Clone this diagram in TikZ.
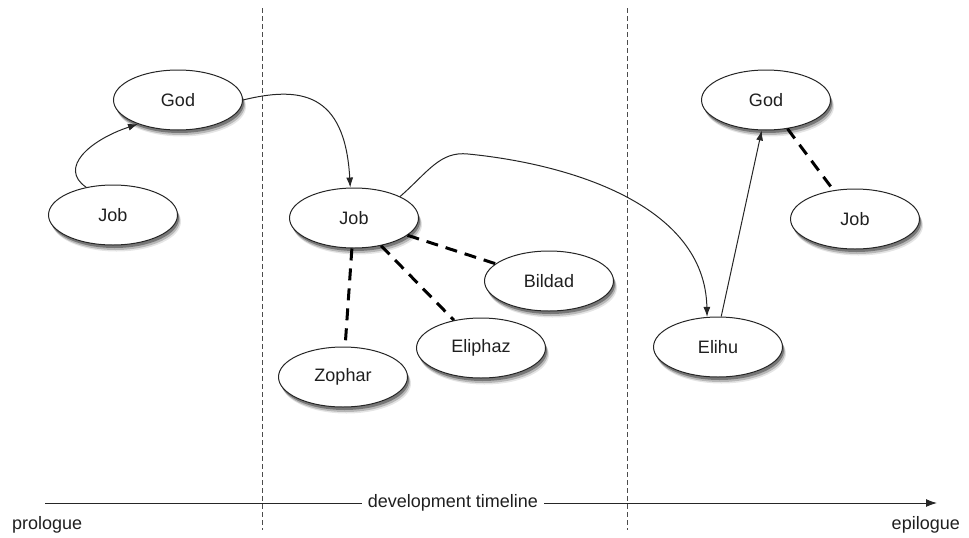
\documentclass[tikz,border=0pt]{standalone}
\usepackage{fontspec}
\setmainfont{Liberation Sans}
\usetikzlibrary{shapes.geometric,shadows,arrows.meta}
\begin{document}
\begin{tikzpicture}[x=1pt,y=-1pt,
  txt/.style={font=\fontsize{18}{21}\selectfont, text=black!88},
  ell/.style={ellipse, draw=black!85, line width=1pt, fill=white,
    minimum width=129pt, minimum height=60pt, inner sep=0pt, txt,
    drop shadow={shadow xshift=3.5pt, shadow yshift=-6.5pt, opacity=0.1, fill=black},
    drop shadow={shadow xshift=2.5pt, shadow yshift=-5pt, opacity=0.2, fill=black},
    drop shadow={shadow xshift=1.5pt, shadow yshift=-3pt, opacity=0.35, fill=black}},
  flow/.style={draw=black!85, line width=1pt, -{Latex[length=10pt,width=7pt]}},
  tie/.style={draw=black, line width=3pt, dash pattern=on 12pt off 8pt},
  sep/.style={draw=black!70, line width=1pt, dash pattern=on 5pt off 3pt},
  tline/.style={draw=black!85, line width=1pt}]
\useasboundingbox (0,0) rectangle (969,538);

% separators
\coordinate (s1t) at (262,8);
\coordinate (s1b) at (262,530);
\coordinate (s2t) at (627,8);
\coordinate (s2b) at (627,530);
\draw[sep] (s1t) -- (s1b);
\draw[sep] (s2t) -- (s2b);

% nodes
\node[ell] (god1) at (178,100) {God};
\node[ell] (job1) at (113,215) {Job};
\node[ell] (job2) at (354,218) {Job};
\node[ell] (bildad) at (549,281) {Bildad};
\node[ell] (eliphaz) at (481,348) {Eliphaz};
\node[ell] (zophar) at (343,377) {Zophar};
\node[ell] (elihu) at (718,347) {Elihu};
\node[ell] (god2) at (766,100) {God};
\node[ell] (job3) at (855,219) {Job};

% flows
\draw[flow] (job1.134) .. controls (58,168) and (90,140) .. (god1.211);
\draw[flow] (god1.east) .. controls (300,86) and (345,92) .. (job2.97);
\draw[flow] (job2.25) .. controls (428,172) and (440,151) .. (468,154)
  .. controls (570,164) and (705,205) .. (elihu.110);
\draw[flow] (elihu.84) -- (god2.262);

% ties
\draw[tie] (job2) -- (bildad);
\draw[tie] (job2) -- (eliphaz);
\draw[tie] (job2) -- (zophar);
\draw[tie] (god2) -- (job3);

% timeline
\node[txt, inner sep=0pt] (tl) at (453,503) {development timeline};
\coordinate (tls) at (45,503);
\coordinate (tle) at (937,503);
\draw[tline] (tls) -- ([xshift=-6pt]tl.west);
\draw[tline, -{Latex[length=11pt,width=8pt]}] ([xshift=6pt]tl.east) -- (tle);
\node[txt, anchor=west, inner sep=0pt] (pro) at (12,525) {prologue};
\node[txt, anchor=east, inner sep=0pt] (epi) at (960,525) {epilogue};
\end{tikzpicture}
\end{document}
